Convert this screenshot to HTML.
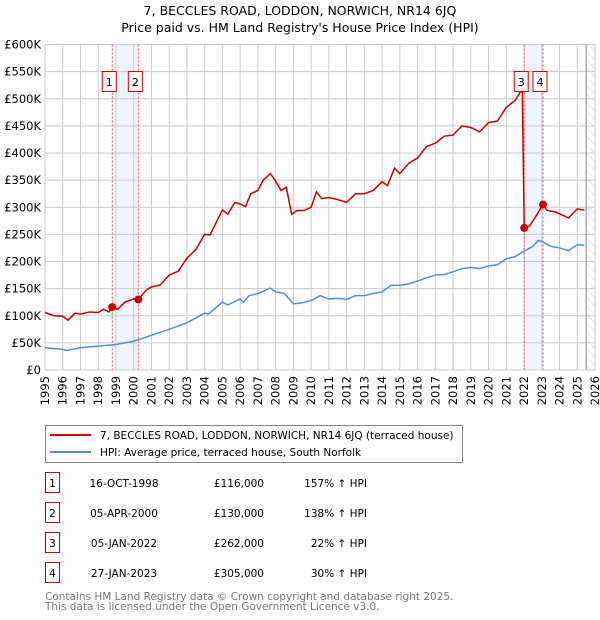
<!DOCTYPE html>
<html><head><meta charset="utf-8"><style>
body{margin:0;background:#fff;font-family:"Liberation Sans","DejaVu Sans",sans-serif}
svg{display:block}
</style></head><body>
<svg width="600" height="620" xmlns="http://www.w3.org/2000/svg" font-family="DejaVu Sans, Liberation Sans, sans-serif">
<text x="300" y="15" text-anchor="middle" font-size="12.5">7, BECCLES ROAD, LODDON, NORWICH, NR14 6JQ</text>
<text x="300" y="32" text-anchor="middle" font-size="12.5">Price paid vs. HM Land Registry's House Price Index (HPI)</text>
<defs><pattern id="hatch" width="6" height="6" patternUnits="userSpaceOnUse" patternTransform="rotate(-45)"><line x1="0" y1="0" x2="0" y2="6" stroke="#ccc" stroke-width="1"/></pattern></defs>
<g id="plot"></g>
<g>
<rect x="45.5" y="425.5" width="417" height="37" fill="#fff" stroke="#888"/>
<line x1="50" y1="435" x2="91" y2="435" stroke="#cc0000" stroke-width="2"/>
<text x="100" y="439" font-size="10.5">7, BECCLES ROAD, LODDON, NORWICH, NR14 6JQ (terraced house)</text>
<line x1="50" y1="452" x2="91" y2="452" stroke="#5b8bd0" stroke-width="2"/>
<text x="100" y="456" font-size="10.5">HPI: Average price, terraced house, South Norfolk</text>
</g>
<g id="table" font-size="10.5"></g>
<text x="45" y="600" font-size="10.5" fill="#777">Contains HM Land Registry data © Crown copyright and database right 2025.</text>
<text x="45" y="610" font-size="10.5" fill="#777">This data is licensed under the Open Government Licence v3.0.</text>
</svg>
<script>
const hpiYears=[1995,1996,1996.2,1997,1998,1999,2000,2001,2002,2003,2004,2004.2,2005,2005.3,2006,2006.2,2006.5,2007,2007.7,2008,2008.5,2009,2009.5,2010,2010.5,2011,2011.5,2012,2012.5,2013,2013.5,2014,2014.5,2015,2015.5,2016,2016.5,2017,2017.5,2018,2018.5,2019,2019.5,2020,2020.5,2021,2021.5,2022,2022.5,2022.8,2023,2023.5,2024,2024.5,2025,2025.4];
const hpiValues=[41,38,36,41,44,47,53,64,75,87,105,103,125,120,131,125,137,141,151,144,141,122,124,128,137,131,132,130,137,137,141,144,156,156,159,164,170,175,176,181,187,189,187,192,194,205,209,219,228,239,237,228,225,220,231,230];
const priceYears=[1995,1995.5,1996,1996.3,1996.7,1997,1997.5,1998,1998.3,1998.6,1998.79,1999.1,1999.5,2000,2000.26,2000.7,2001,2001.5,2002,2002.5,2003,2003.5,2004,2004.3,2004.5,2005,2005.3,2005.7,2006,2006.3,2006.6,2007,2007.3,2007.7,2008,2008.3,2008.6,2008.9,2009.2,2009.6,2010,2010.3,2010.6,2011,2011.5,2012,2012.5,2013,2013.5,2014,2014.3,2014.7,2015,2015.5,2016,2016.5,2017,2017.5,2018,2018.5,2019,2019.5,2020,2020.5,2021,2021.5,2021.9,2022.01,2022.3,2022.7,2023.07,2023.3,2023.8,2024.2,2024.5,2025,2025.4];
const priceValues=[106,100,99,92,105,103,107,106,112,107,116,112,125,131,130,147,153,157,175,182,206,222,250,249,262,295,287,309,306,301,325,331,350,362,348,331,337,287,294,294,300,328,316,318,314,309,325,325,331,347,340,372,362,381,391,412,418,431,433,450,447,439,456,459,484,497,518,262,265,285,305,294,291,285,280,297,295];
const saleIds=["1","2","3","4"];
const saleYears=[1998.79,2000.26,2022.01,2023.07];
const saleValues=[116,130,262,305];
const saleDates=["16-OCT-1998","05-APR-2000","05-JAN-2022","27-JAN-2023"];
const salePrices=["£116,000","£130,000","£262,000","£305,000"];
const saleHpi=["157% ↑ HPI","138% ↑ HPI","22% ↑ HPI","30% ↑ HPI"];
const yTicks=[0,50,100,150,200,250,300,350,400,450,500,550,600];
const yTickLabels=["£0","£50K","£100K","£150K","£200K","£250K","£300K","£350K","£400K","£450K","£500K","£550K","£600K"];
const xTicks=[1995,1996,1997,1998,1999,2000,2001,2002,2003,2004,2005,2006,2007,2008,2009,2010,2011,2012,2013,2014,2015,2016,2017,2018,2019,2020,2021,2022,2023,2024,2025,2026];

const NS="http://www.w3.org/2000/svg";
const L=45,R=595,T=44.5,B=370;
const xs=y=>L+(y-1995)/31*(R-L);
const ys=v=>B-v/600*(B-T);
const plot=document.getElementById('plot');
function mk(tag,attrs,parent){const e=document.createElementNS(NS,tag);for(const k in attrs)e.setAttribute(k,attrs[k]);(parent||plot).appendChild(e);return e;}

for(let i=0;i<4;i+=2){
  const b=mk('rect',{x:xs(saleYears[i]),y:T,width:xs(saleYears[i+1])-xs(saleYears[i]),height:B-T,fill:'#eef3fc'});
  
  
}
const h=mk('rect',{x:xs(2025.5),y:T,width:R-xs(2025.5),height:B-T,fill:'url(#hatch)'});


xTicks.forEach((t,i)=>{
  const g=mk('line',{x1:xs(t),x2:xs(t),y1:T,y2:B,stroke:'#ccc','stroke-width':1});
  
  
  const tx=mk('text',{x:0,y:0,'font-size':11.5,'text-anchor':'end',transform:`translate(${xs(t)+4},${B+6}) rotate(-90)`});
  tx.textContent=t;
  
  
});
yTicks.forEach((t,i)=>{
  const g=mk('line',{x1:L,x2:R,y1:ys(t),y2:ys(t),stroke:'#ccc','stroke-width':1});
  
  
  const tx=mk('text',{x:41,y:ys(t)+4,'font-size':11.5,'text-anchor':'end'});
  tx.textContent=yTickLabels[i];
  
  
});
const ax=mk('line',{x1:xs(2025.5),x2:xs(2025.5),y1:T,y2:B,stroke:'#888','stroke-width':1});


saleYears.forEach(y=>{
  const l=mk('line',{x1:xs(y),x2:xs(y),y1:T,y2:B,stroke:'#e05555','stroke-width':1,'stroke-dasharray':'2,2'});
  
  
});
const hp=mk('polyline',{points:hpiYears.map((y,i)=>xs(y)+','+ys(hpiValues[i])).join(' '),fill:'none',stroke:'#5b8bd0','stroke-width':1.5});


const pp=mk('polyline',{points:priceYears.map((y,i)=>xs(y)+','+ys(priceValues[i])).join(' '),fill:'none',stroke:'#cc0000','stroke-width':1.5});


saleYears.forEach((y,i)=>{
  const c=mk('circle',{cx:xs(y),cy:ys(saleValues[i]),r:4,fill:'#cc0000'});
  
  
  const bx=mk('rect',{x:xs(y)-10,y:71.5,width:14,height:20,fill:'#fff',stroke:'#cc0000'});
  
  
  const t=mk('text',{x:xs(y)-3,y:86,'font-size':11,'text-anchor':'middle'});
  t.textContent=saleIds[i];
  
  
});
const tb=document.getElementById('table');
saleIds.forEach((id,i)=>{
  const y=483+i*30;
  const b=mk('rect',{x:45.5,y:y-10.5,width:14,height:20,fill:'#fff',stroke:'#cc0000'},tb);
  
  
  const n=mk('text',{x:52.5,y:y+4,'text-anchor':'middle'},tb);n.textContent=id;
  
  
  const d=mk('text',{x:124,y:y+4,'text-anchor':'middle'},tb);d.textContent=saleDates[i];
  
  
  const p=mk('text',{x:264,y:y+4,'text-anchor':'end'},tb);p.textContent=salePrices[i];
  
  
  const hh=mk('text',{x:367,y:y+4,'text-anchor':'end'},tb);hh.textContent=saleHpi[i];
  
  
});
</script>
</body></html>
